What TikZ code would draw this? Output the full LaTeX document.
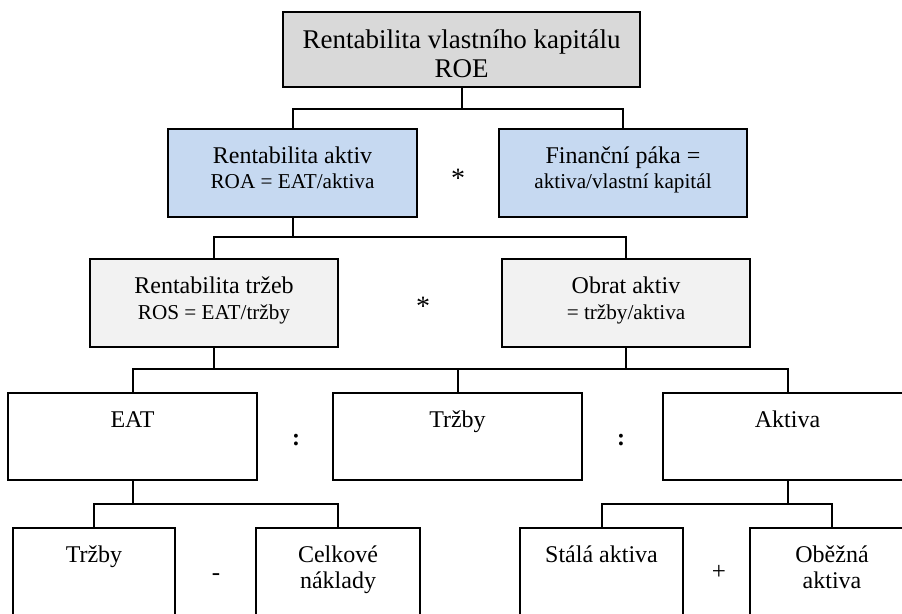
\documentclass[tikz,border=0pt]{standalone}
\usepackage{fontspec}
\setmainfont{Liberation Serif}
\definecolor{roegray}{HTML}{D9D9D9}
\definecolor{roablue}{HTML}{C6D9F1}
\definecolor{rosgray}{HTML}{F2F2F2}
\tikzset{
  box/.style={draw=black, line width=1.2pt, inner sep=0pt, outer sep=0pt},
  conn/.style={draw=black, line width=2pt},
  lbl/.style={anchor=base, inner sep=0pt, font=\fontsize{24}{28}\selectfont},
  lblbig/.style={lbl, font=\fontsize{27}{31}\selectfont},
  lblsub/.style={lbl, font=\fontsize{21.2}{25}\selectfont},
  op/.style={anchor=center, inner sep=0pt, font=\fontsize{25}{29}\selectfont},
  star/.style={op, font=\fontsize{28}{32}\selectfont},
  colon/.style={op, font=\fontsize{24}{28}\selectfont\bfseries},
}
\begin{document}
\begin{tikzpicture}[x=1pt, y=-1pt]
\useasboundingbox (0,0) rectangle (902,613);
\clip (0,0) rectangle (902,613);

% level 0
\node[box, fill=roegray, minimum width=357, minimum height=75] (roe) at (461.5,49.5) {};
\node[lblbig] (roe1) at (461.5,48) {Rentabilita vlastního kapitálu};
\node[lblbig] (roe2) at (461.5,77) {ROE};

% level 1
\node[box, fill=roablue, minimum width=249, minimum height=88] (roa) at (292.5,173) {};
\node[box, fill=roablue, minimum width=248, minimum height=88] (pak) at (623,173) {};
\node[lbl] (roa1) at (292.5,163) {Rentabilita aktiv};
\node[lblsub] (roa2) at (292.5,188) {ROA = EAT/aktiva};
\node[lbl] (pak1) at (623,163) {Finanční páka =};
\node[lblsub] (pak2) at (623,188) {aktiva/vlastní kapitál};
\node[star] (mul1) at (458,178) {*};

% level 2
\node[box, fill=rosgray, minimum width=248, minimum height=88] (ros) at (214,303) {};
\node[box, fill=rosgray, minimum width=248, minimum height=88] (obr) at (626,303) {};
\node[lbl] (ros1) at (214,293) {Rentabilita tržeb};
\node[lblsub] (ros2) at (214,319) {ROS = EAT/tržby};
\node[lbl] (obr1) at (626,293) {Obrat aktiv};
\node[lblsub] (obr2) at (626,319) {= tržby/aktiva};
\node[star] (mul2) at (423,306) {*};

% level 3
\node[box, minimum width=249, minimum height=87] (eat) at (132.5,436.5) {};
\node[box, minimum width=249, minimum height=87] (trz) at (457.5,436.5) {};
\node[box, minimum width=249, minimum height=87] (akt) at (787.5,436.5) {};
\node[lbl] (eat1) at (132.5,427) {EAT};
\node[lbl] (trz1) at (457.5,427) {Tržby};
\node[lbl] (akt1) at (787.5,427) {Aktiva};
\node[colon] (div1) at (296,440) {:};
\node[colon] (div2) at (621,440) {:};

% level 4
\node[box, minimum width=162, minimum height=90] (trz2) at (94,573) {};
\node[box, minimum width=164, minimum height=90] (nak) at (338,573) {};
\node[box, minimum width=163, minimum height=90] (sta) at (601.5,573) {};
\node[box, minimum width=164, minimum height=90] (obe) at (832,573) {};
\node[lbl] (trz21) at (94,562) {Tržby};
\node[lbl] (nak1) at (338,562) {Celkové};
\node[lbl] (nak2) at (338,588) {náklady};
\node[lbl] (sta1) at (601.5,562) {Stálá aktiva};
\node[lbl] (obe1) at (832,562) {Oběžná};
\node[lbl] (obe2) at (832,588) {aktiva};
\node[op] (minus) at (216,577) {-};
\node[op] (plus) at (719,572) {+};

% connectors
\coordinate (j1) at (461.5,109);
\coordinate (j2) at (292.5,237);
\coordinate (j3) at (457.5,369);
\coordinate (j4) at (132.5,504);
\coordinate (j5) at (787.5,504);

\draw[conn] (roe.south) -- (j1);
\draw[conn] (roa.north) |- (j1) -| (pak.north);
\draw[conn] (roa.south) -- (j2);
\draw[conn] (ros.north) |- (j2) -| (obr.north);
\draw[conn] (ros.south) -- (ros.south |- j3);
\draw[conn] (obr.south) -- (obr.south |- j3);
\draw[conn] (eat.north) |- (j3) -| (akt.north);
\draw[conn] (trz.north) -- (j3);
\draw[conn] (eat.south) -- (j4);
\draw[conn] (trz2.north) |- (j4) -| (nak.north);
\draw[conn] (akt.south) -- (j5);
\draw[conn] (sta.north) |- (j5) -| (obe.north);
\end{tikzpicture}
\end{document}
